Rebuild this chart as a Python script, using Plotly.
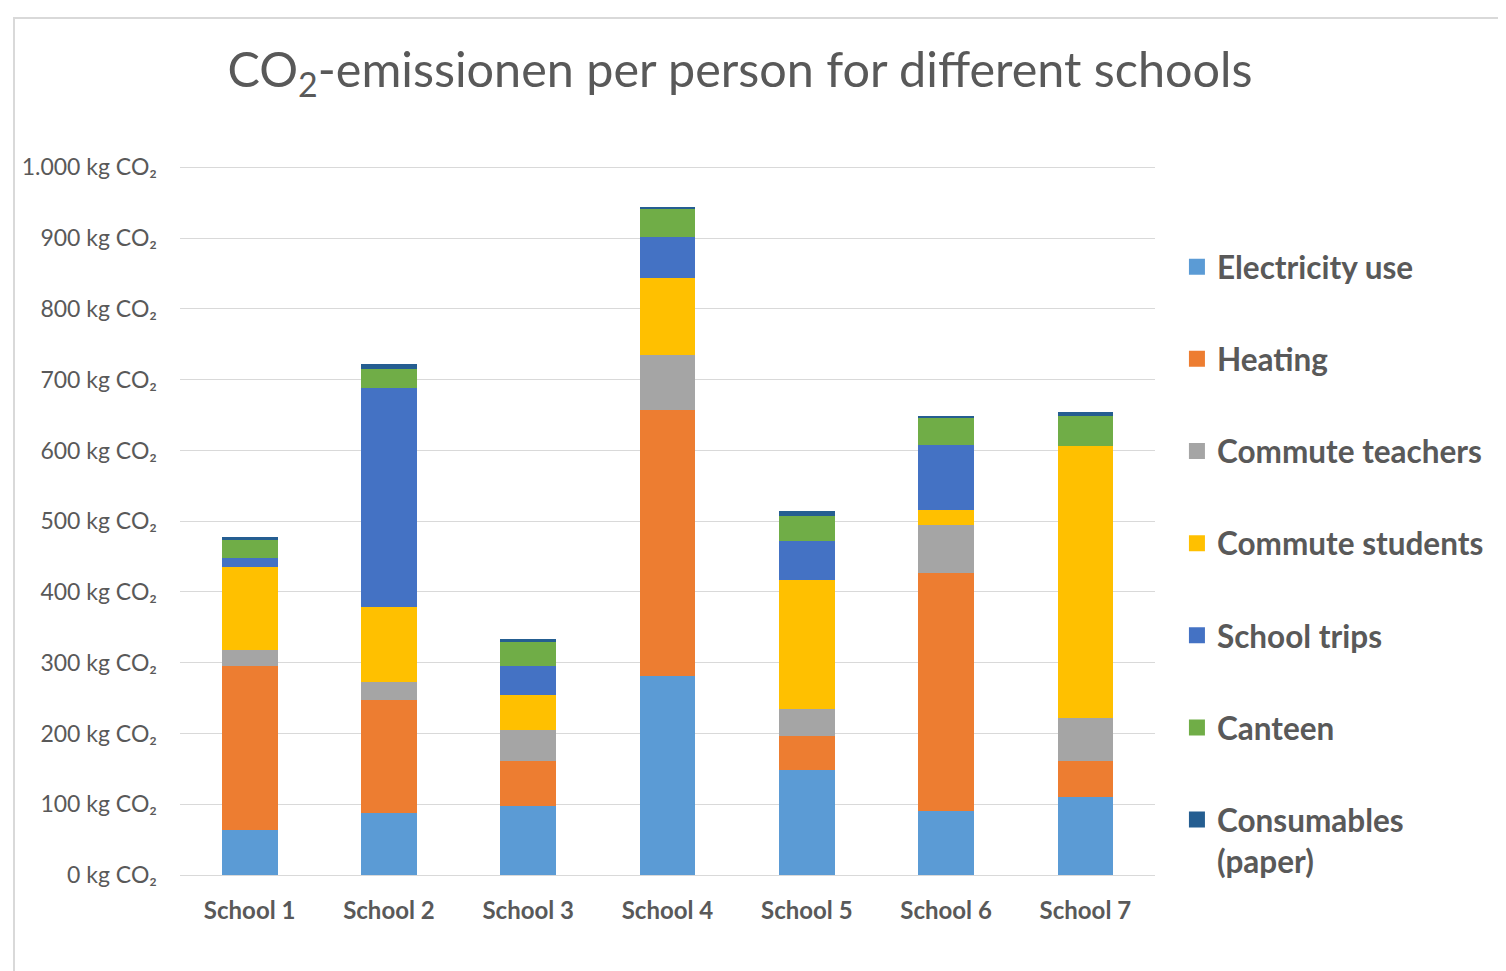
import plotly.graph_objects as go

schools = ["School 1", "School 2", "School 3", "School 4", "School 5", "School 6", "School 7"]

electricity = [63, 88, 97, 281, 149, 91, 110]
heating = [232, 160, 64, 376, 48, 336, 51]
commute_teachers = [23, 25, 44, 78, 37, 67, 61]
commute_students = [117, 106, 50, 109, 183, 22, 385]
school_trips = [13, 309, 40, 58, 55, 92, 0]
canteen = [26, 27, 34, 40, 36, 38, 41]
consumables = [3, 7, 5, 2, 7, 2, 6]

series_names = ["Electricity use", "Heating", "Commute teachers", "Commute students",
                "School trips", "Canteen", "Consumables<br>(paper)"]
series_values = [electricity, heating, commute_teachers, commute_students,
                 school_trips, canteen, consumables]
colors = ["#5B9BD5", "#ED7D31", "#A5A5A5", "#FFC000", "#4472C4", "#70AD47", "#255E91"]

tick_vals = [0, 100, 200, 300, 400, 500, 600, 700, 800, 900, 1000]
tick_text = ["0 kg CO₂", "100 kg CO₂", "200 kg CO₂", "300 kg CO₂", "400 kg CO₂",
             "500 kg CO₂", "600 kg CO₂", "700 kg CO₂", "800 kg CO₂", "900 kg CO₂",
             "1.000 kg CO₂"]

FONT = "Lato, 'Open Sans', sans-serif"
GREY = "#595959"

# page body has an 8px margin, so the figure is laid out 8px smaller / shifted
W, H = 1498, 963
L, T = 172, 158
PW, PH = 975, 709

fig = go.Figure()
for name, vals, col in zip(series_names, series_values, colors):
    fig.add_trace(go.Bar(x=schools, y=vals, name=name, marker=dict(color=col, line=dict(width=0)),
                         showlegend=False))
for i, (name, col) in enumerate(zip(series_names, colors)):
    fig.add_trace(go.Scatter(x=[None], y=[None], mode="markers", name=name,
                             legendgroup=f"g{i}",
                             marker=dict(symbol="square", size=18, color=col)))

fig.update_layout(
    width=W, height=H,
    barmode="stack", bargap=0.6,
    paper_bgcolor="white", plot_bgcolor="white",
    margin=dict(l=L, r=W - L - PW, t=T, b=H - T - PH, pad=0),
    title=dict(text="CO<sub>2</sub>-emissionen per person for different schools",
               x=732 / W, xanchor="center", y=1 - 62 / H, yanchor="middle",
               font=dict(family=FONT, size=48.5, color=GREY)),
    font=dict(family=FONT, color=GREY),
    xaxis=dict(showgrid=False, showline=True, linecolor="#D9D9D9", linewidth=1,
               ticks="", ticklabelstandoff=14,
               tickfont=dict(family=FONT, size=24, color=GREY, weight="bold")),
    yaxis=dict(range=[0, 1002], tickvals=tick_vals, ticktext=tick_text,
               showgrid=True, gridcolor="#D9D9D9", gridwidth=1, zeroline=False,
               ticks="", ticklabelstandoff=22,
               tickfont=dict(family=FONT, size=23, color=GREY)),
    legend=dict(x=1.0225, xanchor="left", y=0.896, yanchor="top",
                traceorder="grouped", tracegroupgap=48.2, valign="top",
                font=dict(family=FONT, size=31.5, color=GREY, weight="bold"),
                itemsizing="trace"),
    shapes=[dict(type="rect", xref="paper", yref="paper",
                 x0=(6 - L) / PW, x1=1.5, y0=-0.3, y1=(T + PH - 10) / PH,
                 line=dict(color="#D9D9D9", width=2), layer="below")],
)

fig.write_html("out.html")
